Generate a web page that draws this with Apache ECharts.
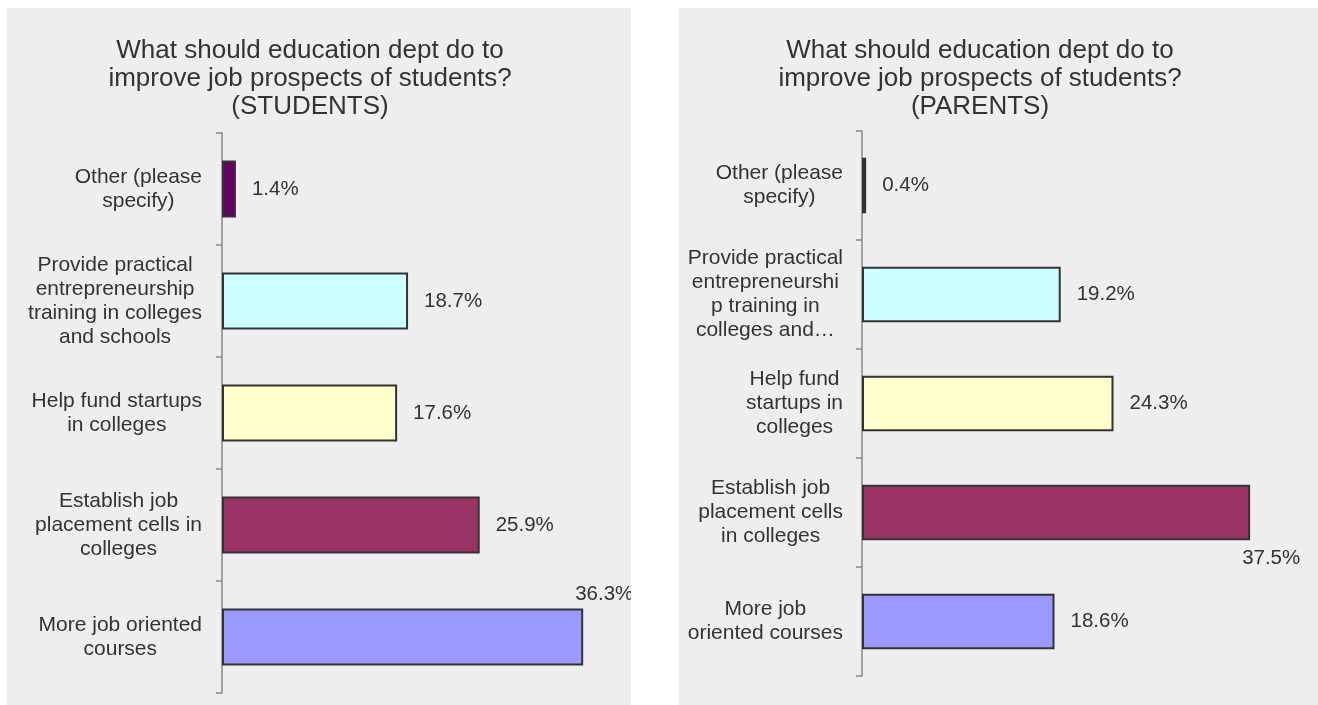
<!DOCTYPE html>
<html>
<head>
<meta charset="utf-8">
<script src="https://cdn.jsdelivr.net/npm/echarts@6/dist/echarts.min.js"></script>
<style>
  html, body { margin: 0; padding: 0; background: #ffffff; width: 1318px; height: 705px; overflow: hidden; }
  .panel { position: absolute; background: #eeeeee; overflow: hidden; }
  #left { left: 7px; top: 8px; width: 624px; height: 697px; }
  #right { left: 679px; top: 8px; width: 639px; height: 697px; }
</style>
</head>
<body>
<div id="left" class="panel"></div>
<div id="right" class="panel"></div>
<script>
// ---- data (top-to-bottom order as shown) ----
const categories = [
  "Other (please specify)",
  "Provide practical entrepreneurship training in colleges and schools",
  "Help fund startups in colleges",
  "Establish job placement cells in colleges",
  "More job oriented courses"
];
const studentsLabels = [
  "Other (please\nspecify)",
  "Provide practical\nentrepreneurship\ntraining in colleges\nand schools",
  "Help fund startups\nin colleges",
  "Establish job\nplacement cells in\ncolleges",
  "More job oriented\ncourses"
];
const parentsLabels = [
  "Other (please\nspecify)",
  "Provide practical\nentrepreneurshi\np training in\ncolleges and\u2026",
  "Help fund\nstartups in\ncolleges",
  "Establish job\nplacement cells\nin colleges",
  "More job\noriented courses"
];
const studentsValues = [1.4, 18.7, 17.6, 25.9, 36.3];
const parentsValues = [0.4, 19.2, 24.3, 37.5, 18.6];
const titleStudents = "What should education dept do to\nimprove job prospects of students?\n(STUDENTS)";
const titleParents = "What should education dept do to\nimprove job prospects of students?\n(PARENTS)";
const barColors = ["#660066", "#CCFFFF", "#FFFFCC", "#993366", "#9999FF"];

const FONT = "'Liberation Sans', Arial, Helvetica, sans-serif";
const TEXT = "#333333";

function buildOption(cfg) {
  const data = cfg.values.map((v, i) => {
    const item = { value: v, itemStyle: { color: barColors[i] } };
    if (cfg.override && cfg.override.index === i) {
      item.label = cfg.override.mode === 'above'
        ? { position: ['100%', 0], offset: [-8, -14], align: 'left', verticalAlign: 'middle' }
        : { position: ['100%', '100%'], offset: [-8, 18], align: 'left', verticalAlign: 'middle' };
    }
    return item;
  });
  return {
    animation: false,
    backgroundColor: '#eeeeee',
    title: {
      text: cfg.title,
      left: cfg.titleX,
      top: 29,
      textAlign: 'center',
      padding: 0,
      textStyle: { fontFamily: FONT, fontSize: 26, fontWeight: 'normal', color: TEXT, lineHeight: 28 }
    },
    grid: { left: cfg.gridLeft, top: cfg.gridTop, width: cfg.gridWidth, height: cfg.gridHeight, containLabel: false },
    xAxis: { type: 'value', min: 0, max: 40, show: false, splitLine: { show: false } },
    yAxis: {
      type: 'category',
      data: categories,
      inverse: true,
      axisLine: { show: true, lineStyle: { color: '#888888', width: 1.5 } },
      axisTick: { show: true, length: 6, inside: false, lineStyle: { color: '#888888', width: 1.5 } },
      axisLabel: {
        margin: cfg.labelMargin,
        formatter: (val, idx) => cfg.labels[idx].split('\n').map(l => '{c|' + l + '}').join('\n'),
        rich: { c: { align: 'center', fontFamily: FONT, fontSize: 21, lineHeight: 24, color: TEXT } }
      }
    },
    series: [{
      type: 'bar',
      data: data,
      barCategoryGap: '49%',
      itemStyle: { borderColor: '#333333', borderWidth: 2 },
      label: {
        show: true,
        position: 'right',
        distance: 16,
        fontFamily: FONT,
        fontSize: 20.5,
        color: TEXT,
        formatter: p => p.value.toFixed(1) + '%'
      }
    }]
  };
}

const left = echarts.init(document.getElementById('left'));
left.setOption(buildOption({
  title: titleStudents, titleX: 303,
  values: studentsValues, labels: studentsLabels,
  gridLeft: 215, gridTop: 125, gridWidth: 398, gridHeight: 560,
  labelMargin: 20,
  override: { index: 4, mode: 'above' }
}));

const right = echarts.init(document.getElementById('right'));
right.setOption(buildOption({
  title: titleParents, titleX: 301,
  values: parentsValues, labels: parentsLabels,
  gridLeft: 183, gridTop: 123, gridWidth: 414, gridHeight: 545,
  labelMargin: 19,
  override: { index: 3, mode: 'below' }
}));
</script>
</body>
</html>
